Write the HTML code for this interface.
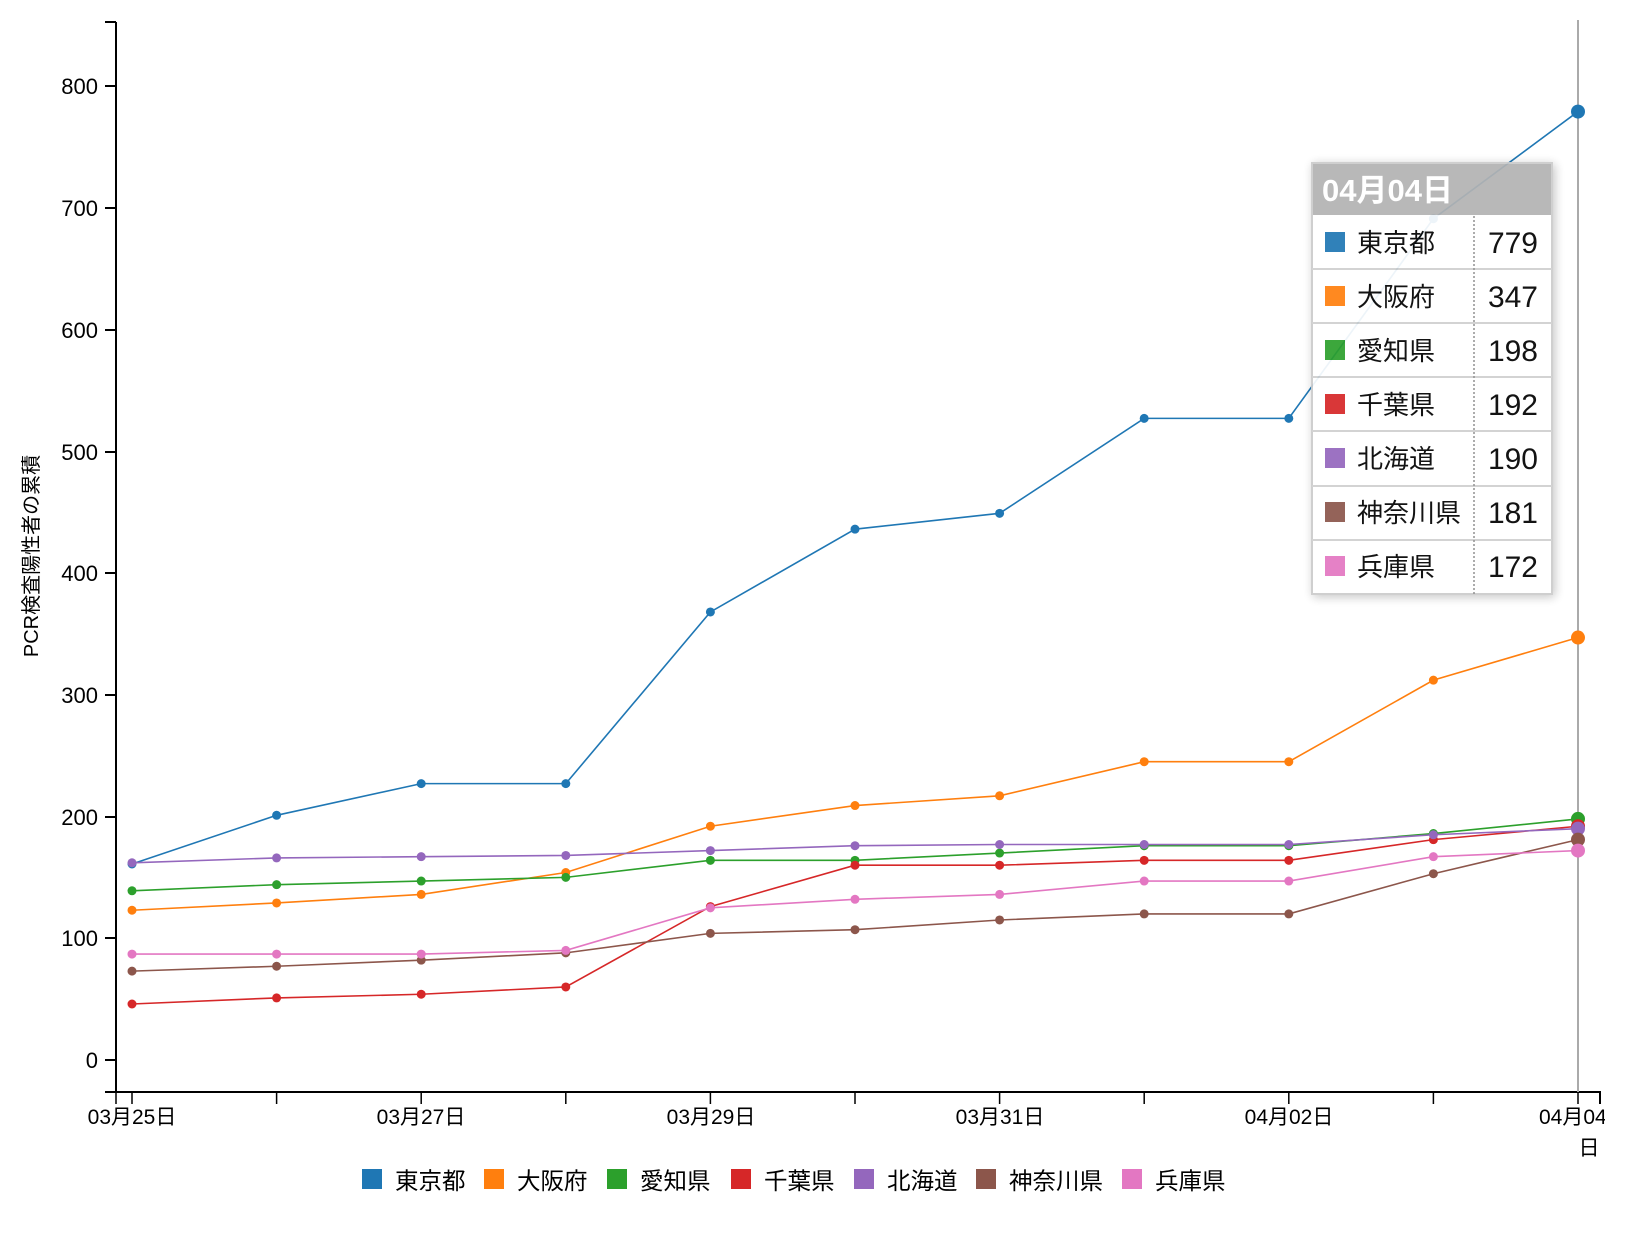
<!DOCTYPE html>
<html><head><meta charset="utf-8"><style>
body{margin:0;background:#fff;}
svg text{font-family:"Liberation Sans","Noto Sans CJK JP",sans-serif;}
</style></head><body>
<svg id="s" width="1625" height="1234" xmlns="http://www.w3.org/2000/svg">
<defs><clipPath id="cp"><rect x="0" y="0" width="1605" height="1234"/></clipPath>
<filter id="sh" x="-20%" y="-20%" width="140%" height="140%"><feDropShadow dx="2" dy="2" stdDeviation="5" flood-color="#000" flood-opacity="0.25"/></filter></defs>
<g id="lines"></g>
<line x1="116" y1="22" x2="116" y2="1093" stroke="#000" stroke-width="2"/>
<line x1="105" y1="22" x2="116" y2="22" stroke="#000" stroke-width="2"/>
<line x1="105" y1="1092" x2="1601" y2="1092" stroke="#000" stroke-width="2"/>
<line x1="1600" y1="1092" x2="1600" y2="1104" stroke="#000" stroke-width="2"/>
<g stroke="#000" stroke-width="2">
<line x1="105" x2="116" y1="1060" y2="1060"/><line x1="105" x2="116" y1="938" y2="938"/>
<line x1="105" x2="116" y1="817" y2="817"/><line x1="105" x2="116" y1="695" y2="695"/>
<line x1="105" x2="116" y1="573" y2="573"/><line x1="105" x2="116" y1="452" y2="452"/>
<line x1="105" x2="116" y1="330" y2="330"/><line x1="105" x2="116" y1="208" y2="208"/>
<line x1="105" x2="116" y1="86" y2="86"/>
</g>
<g font-size="22" text-anchor="end" fill="#000">
<text x="98" y="1068">0</text><text x="98" y="946">100</text><text x="98" y="825">200</text>
<text x="98" y="703">300</text><text x="98" y="581">400</text><text x="98" y="460">500</text>
<text x="98" y="338">600</text><text x="98" y="216">700</text><text x="98" y="94">800</text>
</g>
<text transform="translate(38,556) rotate(-90)" font-size="20" text-anchor="middle">PCR検査陽性者の累積</text>
<g stroke="#000" stroke-width="1.5" id="xt"></g>
<g font-size="21" text-anchor="middle" clip-path="url(#cp)">
<text x="132" y="1124">03月25日</text><text x="421" y="1124">03月27日</text>
<text x="711" y="1124">03月29日</text><text x="1000" y="1124">03月31日</text>
<text x="1289" y="1124">04月02日</text><text x="1539" y="1124" text-anchor="start">04月04</text>
<text x="1589" y="1155">日</text>
</g>
<line x1="1578" y1="20" x2="1578" y2="1092" stroke="#aaa" stroke-width="2"/>
<g id="pts"></g>
<g font-size="23.5">
<rect x="362" y="1169" width="20" height="20" fill="#1f77b4"/><text x="395" y="1189">東京都</text>
<rect x="484" y="1169" width="20" height="20" fill="#ff7f0e"/><text x="517" y="1189">大阪府</text>
<rect x="607" y="1169" width="20" height="20" fill="#2ca02c"/><text x="640" y="1189">愛知県</text>
<rect x="731" y="1169" width="20" height="20" fill="#d62728"/><text x="764" y="1189">千葉県</text>
<rect x="854" y="1169" width="20" height="20" fill="#9467bd"/><text x="887" y="1189">北海道</text>
<rect x="976" y="1169" width="20" height="20" fill="#8c564b"/><text x="1009" y="1189">神奈川県</text>
<rect x="1122" y="1169" width="20" height="20" fill="#e377c2"/><text x="1155" y="1189">兵庫県</text>
</g>
<g opacity="0.92">
<rect x="1312" y="163" width="240" height="431" fill="#fff" stroke="#ccc" stroke-width="2" filter="url(#sh)"/>
<rect x="1313" y="164" width="238" height="51" fill="#b3b3b3"/>
<text x="1322" y="201" font-size="31" font-weight="bold" fill="#fff">04月04日</text>
<g stroke="#d0d0d0" stroke-width="2">
<line x1="1312" x2="1552" y1="269" y2="269"/><line x1="1312" x2="1552" y1="323" y2="323"/>
<line x1="1312" x2="1552" y1="377" y2="377"/><line x1="1312" x2="1552" y1="431" y2="431"/>
<line x1="1312" x2="1552" y1="486" y2="486"/><line x1="1312" x2="1552" y1="540" y2="540"/>
</g>
<line x1="1474" y1="216" x2="1474" y2="594" stroke="#888" stroke-width="1.5" stroke-dasharray="2,2"/>
<g font-size="26">
<rect x="1325" y="232" width="20" height="20" fill="#1f77b4"/><text x="1357" y="252">東京都</text><text x="1538" y="253" text-anchor="end" font-size="30">779</text>
<rect x="1325" y="286" width="20" height="20" fill="#ff7f0e"/><text x="1357" y="306">大阪府</text><text x="1538" y="307" text-anchor="end" font-size="30">347</text>
<rect x="1325" y="340" width="20" height="20" fill="#2ca02c"/><text x="1357" y="360">愛知県</text><text x="1538" y="361" text-anchor="end" font-size="30">198</text>
<rect x="1325" y="394" width="20" height="20" fill="#d62728"/><text x="1357" y="414">千葉県</text><text x="1538" y="415" text-anchor="end" font-size="30">192</text>
<rect x="1325" y="448" width="20" height="20" fill="#9467bd"/><text x="1357" y="468">北海道</text><text x="1538" y="469" text-anchor="end" font-size="30">190</text>
<rect x="1325" y="502" width="20" height="20" fill="#8c564b"/><text x="1357" y="522">神奈川県</text><text x="1538" y="523" text-anchor="end" font-size="30">181</text>
<rect x="1325" y="556" width="20" height="20" fill="#e377c2"/><text x="1357" y="576">兵庫県</text><text x="1538" y="577" text-anchor="end" font-size="30">172</text>
</g>
</g>
</svg>
<script>
var NS="http://www.w3.org/2000/svg";
var D=[["#1f77b4",[161,201,227,227,368,436,449,527,527,691,779]],
["#ff7f0e",[123,129,136,154,192,209,217,245,245,312,347]],
["#2ca02c",[139,144,147,150,164,164,170,176,176,186,198]],
["#d62728",[46,51,54,60,126,160,160,164,164,181,192]],
["#9467bd",[162,166,167,168,172,176,177,177,177,185,190]],
["#8c564b",[73,77,82,88,104,107,115,120,120,153,181]],
["#e377c2",[87,87,87,90,125,132,136,147,147,167,172]]];
function X(i){return 132+144.6*i;}function Y(v){return 1060-v*1.2175;}
var L=document.getElementById("lines"),P=document.getElementById("pts"),T=document.getElementById("xt");
for(var i=0;i<11;i++){var l=document.createElementNS(NS,"line");l.setAttribute("x1",X(i));l.setAttribute("x2",X(i));l.setAttribute("y1",1092);l.setAttribute("y2",1104);T.appendChild(l);}
var l0=document.createElementNS(NS,"line");l0.setAttribute("x1",116);l0.setAttribute("x2",116);l0.setAttribute("y1",1092);l0.setAttribute("y2",1104);T.appendChild(l0);
D.forEach(function(d){var p=d[1].map(function(v,i){return X(i)+","+Y(v);}).join(" ");
var pl=document.createElementNS(NS,"polyline");pl.setAttribute("points",p);pl.setAttribute("fill","none");pl.setAttribute("stroke",d[0]);pl.setAttribute("stroke-width","1.6");L.appendChild(pl);
d[1].forEach(function(v,i){var c=document.createElementNS(NS,"circle");c.setAttribute("cx",X(i));c.setAttribute("cy",Y(v));c.setAttribute("r",i==10?7:4.5);c.setAttribute("fill",d[0]);(i==10?P:L).appendChild(c);});});
</script>
</body></html>
